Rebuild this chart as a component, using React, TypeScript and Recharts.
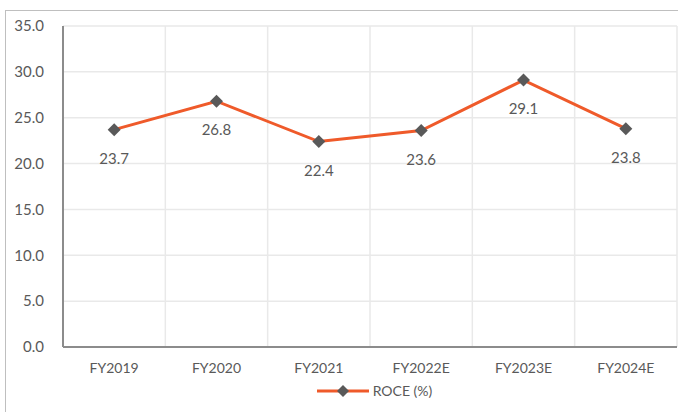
import React from "react";
import {
  CartesianGrid,
  LabelList,
  Legend,
  Line,
  LineChart,
  XAxis,
  YAxis,
} from "recharts";

// ROCE by fiscal year
const years = ["FY2019", "FY2020", "FY2021", "FY2022E", "FY2023E", "FY2024E"];
const roce = [23.7, 26.8, 22.4, 23.6, 29.1, 23.8];
const yTicks = [0, 5, 10, 15, 20, 25, 30, 35];

const data = years.map((year, i) => ({ year, roce: roce[i] }));

const LINE = "#EF5A2A";
const MARKER = "#595959";
const TEXT = "#595959";
const FONT = "Lato, 'Open Sans', sans-serif";

function Diamond(props: any) {
  const { cx, cy } = props;
  if (cx == null || cy == null) return null;
  const r = 6.5;
  return (
    <path
      d={`M${cx},${cy - r} L${cx + r},${cy} L${cx},${cy + r} L${cx - r},${cy} Z`}
      fill={MARKER}
    />
  );
}

function ValueLabel(props: any) {
  const { x, y, value } = props;
  return (
    <text
      x={x}
      y={y + 34}
      textAnchor="middle"
      fill={TEXT}
      fontSize={15}
      fontFamily={FONT}
    >
      {Number(value).toFixed(1)}
    </text>
  );
}

function LegendContent() {
  return (
    <div
      style={{
        display: "flex",
        alignItems: "center",
        justifyContent: "center",
        paddingLeft: 72,
        fontFamily: FONT,
        fontSize: 14,
        color: TEXT,
      }}
    >
      <svg width={52} height={14} style={{ marginRight: 4 }}>
        <line x1={0} y1={7} x2={52} y2={7} stroke={LINE} strokeWidth={3} />
        <path d="M26,1 L32,7 L26,13 L20,7 Z" fill={MARKER} />
      </svg>
      <span>ROCE (%)</span>
    </div>
  );
}

export default function App() {
  return (
    <div
      style={{
        position: "absolute",
        left: 0,
        top: 0,
        width: 678,
        height: 412,
        overflow: "hidden",
        background: "#fff",
      }}
    >
      <div
        style={{
          position: "absolute",
          left: 5,
          top: 10,
          width: 720,
          height: 440,
          border: "1.5px solid #bfbfbf",
        }}
      />
      <div style={{ position: "absolute", left: 0, top: 0 }}>
        <LineChart
          width={678}
          height={412}
          data={data}
          margin={{ top: 26, right: 1, left: 0, bottom: 0 }}
        >
          <CartesianGrid
            stroke="#e9e9e9"
            strokeWidth={1.5}
            verticalCoordinatesGenerator={({ offset }: any) =>
              years.map((_, i) => offset.left + ((i + 1) * offset.width) / years.length)
            }
          />
          <XAxis
            dataKey="year"
            scale="band"
            tickLine={false}
            axisLine={{ stroke: "#8c8c8c", strokeWidth: 2 }}
            tick={{ fill: TEXT, fontSize: 14, fontFamily: FONT }}
            tickMargin={10}
            height={35}
          />
          <YAxis
            domain={[0, 35]}
            ticks={yTicks}
            tickFormatter={(v: number) => v.toFixed(1)}
            tickLine={false}
            axisLine={{ stroke: "#8c8c8c", strokeWidth: 2 }}
            tick={{ fill: TEXT, fontSize: 15, fontFamily: FONT }}
            tickMargin={13}
            width={63}
          />
          <Legend
            verticalAlign="bottom"
            height={30}
            content={<LegendContent />}
          />
          <Line
            type="linear"
            dataKey="roce"
            name="ROCE (%)"
            stroke={LINE}
            strokeWidth={3}
            dot={<Diamond />}
            activeDot={false}
            isAnimationActive={false}
          >
            <LabelList dataKey="roce" content={<ValueLabel />} />
          </Line>
        </LineChart>
      </div>
    </div>
  );
}
